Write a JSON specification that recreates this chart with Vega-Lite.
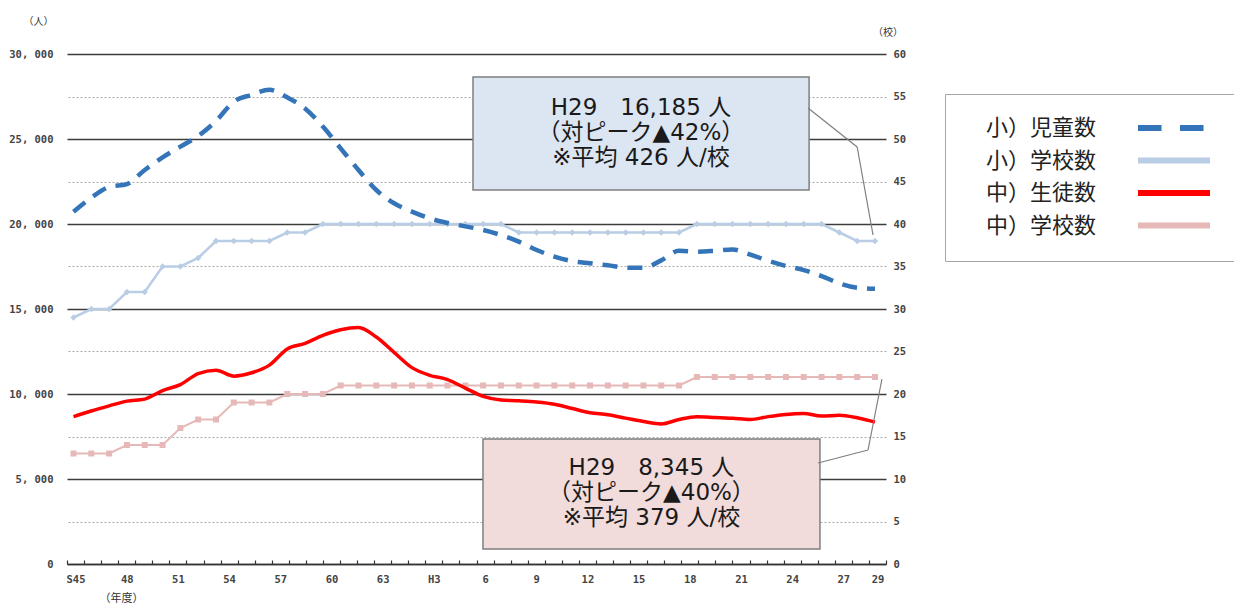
{
  "$schema": "https://vega.github.io/schema/vega-lite/v6.json",
  "width": 819,
  "height": 510,
  "autosize": {"type": "none"},
  "padding": {"left": 67, "top": 54, "right": 348, "bottom": 42},
  "background": "white",
  "config": {"view": {"stroke": null}, "font": "Noto Sans CJK JP"},
  "datasets": {
    "years": [
      {"year": 1970}, {"year": 1971}, {"year": 1972}, {"year": 1973}, {"year": 1974}, {"year": 1975},
      {"year": 1976}, {"year": 1977}, {"year": 1978}, {"year": 1979}, {"year": 1980}, {"year": 1981},
      {"year": 1982}, {"year": 1983}, {"year": 1984}, {"year": 1985}, {"year": 1986}, {"year": 1987},
      {"year": 1988}, {"year": 1989}, {"year": 1990}, {"year": 1991}, {"year": 1992}, {"year": 1993},
      {"year": 1994}, {"year": 1995}, {"year": 1996}, {"year": 1997}, {"year": 1998}, {"year": 1999},
      {"year": 2000}, {"year": 2001}, {"year": 2002}, {"year": 2003}, {"year": 2004}, {"year": 2005},
      {"year": 2006}, {"year": 2007}, {"year": 2008}, {"year": 2009}, {"year": 2010}, {"year": 2011},
      {"year": 2012}, {"year": 2013}, {"year": 2014}, {"year": 2015}, {"year": 2016}, {"year": 2017}
    ],
    "series": [
      {"idx": 0, "es": 20720, "ms": 8670, "esc": 29, "msc": 13},
      {"idx": 1, "es": 21550, "ms": 9000, "esc": 30, "msc": 13},
      {"idx": 2, "es": 22180, "ms": 9300, "esc": 30, "msc": 13},
      {"idx": 3, "es": 22350, "ms": 9580, "esc": 32, "msc": 14},
      {"idx": 4, "es": 23180, "ms": 9700, "esc": 32, "msc": 14},
      {"idx": 5, "es": 23920, "ms": 10200, "esc": 35, "msc": 14},
      {"idx": 6, "es": 24550, "ms": 10550, "esc": 35, "msc": 16},
      {"idx": 7, "es": 25180, "ms": 11200, "esc": 36, "msc": 17},
      {"idx": 8, "es": 26060, "ms": 11400, "esc": 38, "msc": 17},
      {"idx": 9, "es": 27200, "ms": 11050, "esc": 38, "msc": 19},
      {"idx": 10, "es": 27600, "ms": 11250, "esc": 38, "msc": 19},
      {"idx": 11, "es": 27900, "ms": 11700, "esc": 38, "msc": 19},
      {"idx": 12, "es": 27450, "ms": 12650, "esc": 39, "msc": 20},
      {"idx": 13, "es": 26800, "ms": 12980, "esc": 39, "msc": 20},
      {"idx": 14, "es": 25730, "ms": 13450, "esc": 40, "msc": 20},
      {"idx": 15, "es": 24450, "ms": 13780, "esc": 40, "msc": 21},
      {"idx": 16, "es": 23180, "ms": 13910, "esc": 40, "msc": 21},
      {"idx": 17, "es": 22000, "ms": 13350, "esc": 40, "msc": 21},
      {"idx": 18, "es": 21220, "ms": 12450, "esc": 40, "msc": 21},
      {"idx": 19, "es": 20730, "ms": 11550, "esc": 40, "msc": 21},
      {"idx": 20, "es": 20330, "ms": 11100, "esc": 40, "msc": 21},
      {"idx": 21, "es": 20060, "ms": 10850, "esc": 40, "msc": 21},
      {"idx": 22, "es": 19860, "ms": 10350, "esc": 40, "msc": 21},
      {"idx": 23, "es": 19650, "ms": 9860, "esc": 40, "msc": 21},
      {"idx": 24, "es": 19350, "ms": 9650, "esc": 40, "msc": 21},
      {"idx": 25, "es": 18960, "ms": 9600, "esc": 39, "msc": 21},
      {"idx": 26, "es": 18470, "ms": 9530, "esc": 39, "msc": 21},
      {"idx": 27, "es": 18080, "ms": 9400, "esc": 39, "msc": 21},
      {"idx": 28, "es": 17820, "ms": 9150, "esc": 39, "msc": 21},
      {"idx": 29, "es": 17690, "ms": 8900, "esc": 39, "msc": 21},
      {"idx": 30, "es": 17570, "ms": 8780, "esc": 39, "msc": 21},
      {"idx": 31, "es": 17430, "ms": 8580, "esc": 39, "msc": 21},
      {"idx": 32, "es": 17420, "ms": 8380, "esc": 39, "msc": 21},
      {"idx": 33, "es": 17860, "ms": 8240, "esc": 39, "msc": 21},
      {"idx": 34, "es": 18420, "ms": 8500, "esc": 39, "msc": 21},
      {"idx": 35, "es": 18370, "ms": 8660, "esc": 40, "msc": 22},
      {"idx": 36, "es": 18420, "ms": 8620, "esc": 40, "msc": 22},
      {"idx": 37, "es": 18500, "ms": 8570, "esc": 40, "msc": 22},
      {"idx": 38, "es": 18200, "ms": 8500, "esc": 40, "msc": 22},
      {"idx": 39, "es": 17840, "ms": 8670, "esc": 40, "msc": 22},
      {"idx": 40, "es": 17530, "ms": 8800, "esc": 40, "msc": 22},
      {"idx": 41, "es": 17290, "ms": 8850, "esc": 40, "msc": 22},
      {"idx": 42, "es": 16940, "ms": 8700, "esc": 40, "msc": 22},
      {"idx": 43, "es": 16510, "ms": 8750, "esc": 39, "msc": 22},
      {"idx": 44, "es": 16250, "ms": 8600, "esc": 38, "msc": 22},
      {"idx": 45, "es": 16185, "ms": 8345, "esc": 38, "msc": 22}
    ]
  },
  "layer": [
    {
      "data": {"name": "years"},
      "mark": {"type": "rule", "strokeOpacity": 0},
      "encoding": {
        "x": {
          "field": "year", "type": "ordinal", "sort": null,
          "scale": {"type": "band", "paddingInner": 0, "paddingOuter": 0},
          "axis": {
            "orient": "bottom",
            "title": "（年度）", "titleX": 54, "titleY": 34, "titleAlign": "center", "titleBaseline": "middle",
            "titleFont": "Noto Sans CJK JP", "titleFontSize": 11, "titleFontWeight": "normal", "titleColor": "#333333",
            "labelAngle": 0,
            "labelExpr": "indexof([1970,1973,1976,1979,1982,1985,1988,1991,1994,1997,2000,2003,2006,2009,2012,2015,2017], datum.value) < 0 ? '' : datum.value == 1970 ? 'S45' : datum.value == 1991 ? 'H3' : datum.value < 1989 ? '' + (datum.value - 1925) : '' + (datum.value - 1988)",
            "labelFont": "DejaVu Sans Mono", "labelFontSize": 10.5, "labelFontWeight": "bold", "labelColor": "#444444",
            "labelPadding": 14, "labelOverlap": false,
            "ticks": true, "tickBand": "extent", "tickSize": -4, "tickColor": "#333333", "tickWidth": 1.2,
            "domain": true, "domainColor": "#333333", "domainWidth": 1.5, "grid": false
          }
        }
      }
    },
    {
      "data": {"name": "series"},
      "encoding": {
        "x": {"field": "idx", "type": "quantitative", "scale": {"domain": [-0.365, 45.618], "nice": false, "zero": false}, "axis": null}
      },
      "layer": [
        {
          "layer": [
            {
              "mark": {"type": "line", "strokeWidth": 2.5, "point": {"shape": "diamond", "size": 40, "filled": true}},
              "encoding": {
                "y": {
                  "field": "esc", "type": "quantitative", "title": "（校）",
                  "scale": {"domain": [0, 60], "nice": false},
                  "axis": {
                    "orient": "right",
                    "values": [0, 5, 10, 15, 20, 25, 30, 35, 40, 45, 50, 55, 60],
                    "grid": true,
                    "gridColor": {"condition": {"test": "datum.value % 10 == 0", "value": "#3c3c3c"}, "value": "#a8a8a8"},
                    "gridDash": {"condition": {"test": "datum.value % 10 == 0", "value": []}, "value": [2, 2]},
                    "gridWidth": {"condition": {"test": "datum.value % 10 == 0", "value": 1.6}, "value": 1},
                    "ticks": false, "domain": false,
                    "labelFont": "DejaVu Sans Mono", "labelFontSize": 10.5, "labelFontWeight": "bold", "labelColor": "#444444",
                    "labelPadding": 7,
                    "titleAngle": 0, "titleX": 1.5, "titleY": -22, "titleAlign": "center", "titleBaseline": "middle",
                    "titleFont": "Noto Sans CJK JP", "titleFontSize": 10, "titleFontWeight": "normal", "titleColor": "#333333"
                  }
                },
                "color": {
                  "datum": "小）学校数",
                  "scale": {
                    "domain": ["小）児童数", "小）学校数", "中）生徒数", "中）学校数"],
                    "range": ["#3474b8", "#b9cde5", "#ff0000", "#e6b9b8"]
                  },
                  "legend": {
                    "orient": "none", "legendX": 878, "legendY": 40, "title": null,
                    "symbolType": "M-7.2,0H7.2", "symbolSize": 100, "symbolStrokeWidth": 6,
                    "rowPadding": 8.5, "padding": 23,
                    "labelOffset": -199, "symbolOffset": 195,
                    "labelFont": "Noto Sans CJK JP", "labelFontSize": 22, "labelColor": "#222222", "labelLimit": 300,
                    "fillColor": "white", "strokeColor": "#a6a6a6",
                    "encode": {
                      "symbols": {"update": {
                        "shape": {"value": "M-7.2,0H7.2"},
                        "fill": {"value": "transparent"},
                        "strokeWidth": {"value": 6},
                        "strokeDash": {"signal": "datum.value === '小）児童数' ? [23.5, 18.5] : []"}
                      }}
                    }
                  }
                }
              }
            },
            {
              "mark": {"type": "line", "strokeWidth": 2, "point": {"shape": "square", "size": 36, "filled": true}},
              "encoding": {
                "y": {"field": "msc", "type": "quantitative", "title": "（校）"},
                "color": {"datum": "中）学校数"}
              }
            }
          ]
        },
        {
          "layer": [
            {
              "mark": {"type": "line", "strokeWidth": 4.5, "strokeDash": [15, 10], "interpolate": "monotone"},
              "encoding": {
                "y": {
                  "field": "es", "type": "quantitative", "title": "（人）",
                  "scale": {"domain": [0, 30000], "nice": false},
                  "axis": {
                    "orient": "left",
                    "values": [0, 5000, 10000, 15000, 20000, 25000, 30000],
                    "labelExpr": "replace(format(datum.value, ','), ',', ', ')",
                    "grid": false, "ticks": false, "domain": false,
                    "labelFont": "DejaVu Sans Mono", "labelFontSize": 10.5, "labelFontWeight": "bold", "labelColor": "#444444",
                    "labelPadding": 14,
                    "titleAngle": 0, "titleX": -29, "titleY": -33, "titleAlign": "center", "titleBaseline": "middle",
                    "titleFont": "Noto Sans CJK JP", "titleFontSize": 10, "titleFontWeight": "normal", "titleColor": "#333333"
                  }
                },
                "color": {"datum": "小）児童数"}
              }
            },
            {
              "mark": {"type": "line", "strokeWidth": 3.5, "interpolate": "monotone"},
              "encoding": {
                "y": {"field": "ms", "type": "quantitative", "title": "（人）"},
                "color": {"datum": "中）生徒数"}
              }
            },
            {
              "transform": [{"filter": "datum.idx == 45"}],
              "mark": {"type": "rect", "fill": "#dce6f2", "stroke": "#7f7f7f", "strokeWidth": 1.5},
              "encoding": {
                "x": {"datum": 22.43, "type": "quantitative"},
                "x2": {"datum": 41.3},
                "y": {"datum": 28647, "type": "quantitative", "title": "（人）"},
                "y2": {"datum": 22000}
              }
            },
            {
              "transform": [{"filter": "datum.idx == 45"}],
              "mark": {"type": "rect", "fill": "#f2dcdb", "stroke": "#7f7f7f", "strokeWidth": 1.5},
              "encoding": {
                "x": {"datum": 22.99, "type": "quantitative"},
                "x2": {"datum": 41.91},
                "y": {"datum": 7353, "type": "quantitative", "title": "（人）"},
                "y2": {"datum": 882}
              }
            },
            {
              "transform": [{"filter": "datum.idx == 45"}],
              "mark": {"type": "rule", "stroke": "#7f7f7f", "strokeWidth": 1.2},
              "encoding": {
                "x": {"datum": 41.24, "type": "quantitative"},
                "x2": {"datum": 44.0},
                "y": {"datum": 26824, "type": "quantitative", "title": "（人）"},
                "y2": {"datum": 24529}
              }
            },
            {
              "transform": [{"filter": "datum.idx == 45"}],
              "mark": {"type": "rule", "stroke": "#7f7f7f", "strokeWidth": 1.2},
              "encoding": {
                "x": {"datum": 44.0, "type": "quantitative"},
                "x2": {"datum": 44.89},
                "y": {"datum": 24529, "type": "quantitative", "title": "（人）"},
                "y2": {"datum": 19353}
              }
            },
            {
              "transform": [{"filter": "datum.idx == 45"}],
              "mark": {"type": "rule", "stroke": "#7f7f7f", "strokeWidth": 1.2},
              "encoding": {
                "x": {"datum": 41.8, "type": "quantitative"},
                "x2": {"datum": 44.61},
                "y": {"datum": 5941, "type": "quantitative", "title": "（人）"},
                "y2": {"datum": 6706}
              }
            },
            {
              "transform": [{"filter": "datum.idx == 45"}],
              "mark": {"type": "rule", "stroke": "#7f7f7f", "strokeWidth": 1.2},
              "encoding": {
                "x": {"datum": 44.61, "type": "quantitative"},
                "x2": {"datum": 45.39},
                "y": {"datum": 6706, "type": "quantitative", "title": "（人）"},
                "y2": {"datum": 10882}
              }
            },
            {
              "transform": [{"filter": "datum.idx == 45"}],
              "mark": {
                "type": "text", "font": "DejaVu Sans, Noto Sans CJK JP", "fontSize": 23, "lineHeight": 25,
                "align": "center", "baseline": "middle", "color": "#1a1a1a",
                "text": ["H29　16,185 人", "（対ピーク▲42%）", "※平均 426 人/校"]
              },
              "encoding": {
                "x": {"datum": 31.86, "type": "quantitative"},
                "y": {"datum": 26824, "type": "quantitative", "title": "（人）"}
              }
            },
            {
              "transform": [{"filter": "datum.idx == 45"}],
              "mark": {
                "type": "text", "font": "DejaVu Sans, Noto Sans CJK JP", "fontSize": 23, "lineHeight": 25,
                "align": "center", "baseline": "middle", "color": "#1a1a1a",
                "text": ["H29　8,345 人", "（対ピーク▲40%）", "※平均 379 人/校"]
              },
              "encoding": {
                "x": {"datum": 32.45, "type": "quantitative"},
                "y": {"datum": 5647, "type": "quantitative", "title": "（人）"}
              }
            }
          ]
        }
      ],
      "resolve": {"scale": {"y": "independent"}}
    }
  ],
  "resolve": {"scale": {"x": "independent", "y": "independent"}}
}
